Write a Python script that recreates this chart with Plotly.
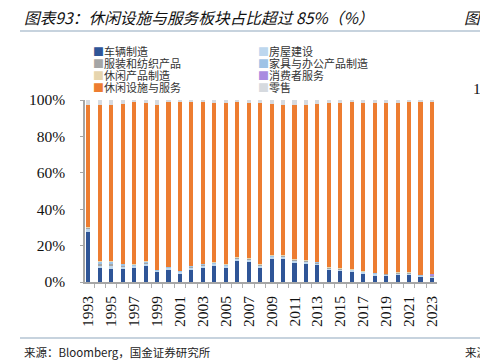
import plotly.graph_objects as go

years = list(range(1993, 2024))
tick_years = [1993, 1995, 1997, 1999, 2001, 2003, 2005, 2007, 2009, 2011, 2013, 2015, 2017, 2019, 2021, 2023]

names = ["车辆制造", "房屋建设", "服装和纺织产品", "家具与办公产品制造",
         "休闲产品制造", "消费者服务", "休闲设施与服务", "零售"]
colors = ["#2F5597", "#BDD7EE", "#A5A5A5", "#9DC3E6",
          "#E6D5AE", "#A98CE0", "#ED7D31", "#D6DADF"]

vehicles = [27.5, 7.7, 7.3, 7.0, 8.0, 8.8, 5.5, 7.1, 4.9, 7.1, 8.2, 8.8, 7.7, 11.6, 11.5, 8.2,
            12.6, 12.5, 10.6, 10.4, 9.3, 6.6, 6.2, 5.9, 4.8, 3.8, 3.7, 4.0, 4.0, 2.9, 2.7]
housing = [1.8, 1.6, 1.7, 1.4, 0.9, 1.3, 0.7, 0.6, 0.6, 0.8, 1.0, 1.1, 1.1, 1.2, 1.0, 1.0,
           1.2, 1.3, 1.2, 1.0, 1.1, 0.9, 0.9, 0.7, 0.7, 0.8, 0.5, 0.8, 0.8, 0.6, 0.5]
apparel = [0.4, 1.0, 1.1, 0.8, 0.4, 0.6, 0.3, 0.3, 0.3, 0.4, 0.4, 0.5, 0.5, 0.5, 0.4, 0.4,
           0.4, 0.5, 0.4, 0.4, 0.4, 0.3, 0.3, 0.3, 0.3, 0.3, 0.2, 0.3, 0.3, 0.3, 0.2]
furniture = [0.4, 0.9, 1.0, 0.7, 0.3, 0.5, 0.2, 0.2, 0.2, 0.3, 0.3, 0.3, 0.3, 0.3, 0.2, 0.2,
             0.3, 0.3, 0.3, 0.2, 0.3, 0.2, 0.2, 0.1, 0.1, 0.1, 0.1, 0.1, 0.1, 0.1, 0.1]
leisure_products = [0.1, 0.3, 0.3, 0.2, 0.1, 0.2, 0.1, 0.0, 0.0, 0.0, 0.1, 0.1, 0.1, 0.1, 0.1, 0.1,
                    0.1, 0.1, 0.1, 0.1, 0.1, 0.1, 0.1, 0.1, 0.1, 0.1, 0.1, 0.1, 0.1, 0.0, 0.1]
consumer_services = [0.0, 0.0, 0.0, 0.0, 0.0, 0.0, 0.0, 0.0, 0.0, 0.0, 0.0, 0.0, 0.0, 0.0, 0.0, 0.0,
                     0.0, 0.0, 0.0, 0.0, 0.0, 0.0, 0.0, 0.0, 0.0, 0.0, 0.0, 0.0, 0.0, 0.1, 1.0]
leisure_facilities = [67.0, 85.9, 86.0, 87.9, 89.2, 86.9, 90.3, 90.7, 93.4, 90.3, 88.7, 87.7, 88.8,
                      85.0, 85.3, 88.3, 83.0, 82.7, 84.8, 85.1, 86.6, 90.4, 90.8, 91.6, 92.5, 93.4,
                      93.9, 93.2, 93.6, 94.9, 94.5]
retail = [2.8, 2.6, 2.6, 2.0, 1.1, 1.7, 2.9, 1.1, 0.6, 1.1, 1.3, 1.5, 1.5, 1.3, 1.5, 1.8,
          2.4, 2.6, 2.6, 2.8, 2.2, 1.5, 1.5, 1.3, 1.5, 1.5, 1.5, 1.5, 1.1, 1.1, 0.9]

series = [vehicles, housing, apparel, furniture, leisure_products,
          consumer_services, leisure_facilities, retail]

y_ticks = [0, 20, 40, 60, 80, 100]

fig = go.Figure()
for name, color, vals in zip(names, colors, series):
    fig.add_trace(go.Bar(x=years, y=vals, name=name, marker=dict(color=color, line=dict(width=0)),
                         width=0.36, showlegend=False))

W, H = 480, 360
L, R, T, B = 85, 437, 100, 282

fig.update_layout(
    width=W, height=H,
    margin=dict(l=L, r=W - R, t=T, b=H - B, autoexpand=False),
    barmode="stack", barnorm="percent",
    paper_bgcolor="white", plot_bgcolor="white",
    font=dict(family="Liberation Serif", color="#222"),
)
fig.update_xaxes(
    range=[1992.71, 2023.44],
    tickvals=tick_years, ticktext=[str(y) for y in tick_years],
    tickangle=-90, ticks="", ticklabelstandoff=6,
    tickfont=dict(family="Liberation Serif", size=15.5, color="#111"),
    showline=True, linecolor="#A6A6A6", linewidth=1.5, showgrid=False, zeroline=False,
    minor=dict(tick0=1992.5, dtick=1, ticks="outside", ticklen=4, tickcolor="#B0B0B0", tickwidth=1.2),
)
fig.update_yaxes(
    range=[0, 100], tickvals=y_ticks, ticktext=[f"{v}%" for v in y_ticks],
    ticks="outside", ticklen=3, tickcolor="#A6A6A6", ticklabelstandoff=12,
    tickfont=dict(family="Liberation Serif", size=15.5, color="#111"),
    showline=True, linecolor="#A6A6A6", linewidth=1.5, showgrid=False, zeroline=False,
)


def px_x(x):
    return (x - L) / (R - L)


def px_y(y):
    return (B - y) / (B - T)


annotations = []
# title
annotations.append(dict(x=px_x(22), y=px_y(17), xref="paper", yref="paper", xanchor="left", yanchor="middle",
                        text="<i>图表93：休闲设施与服务板块占比超过 85%（%）</i>", showarrow=False,
                        font=dict(family="Noto Sans CJK SC", size=15.7, color="#111")))
annotations.append(dict(x=px_x(462), y=px_y(17), xref="paper", yref="paper", xanchor="left", yanchor="middle",
                        text="<i>图表</i>", showarrow=False,
                        font=dict(family="Noto Sans CJK SC", size=15.7, color="#111")))
annotations.append(dict(x=px_x(471), y=px_y(88), xref="paper", yref="paper", xanchor="left", yanchor="middle",
                        text="100%", showarrow=False,
                        font=dict(family="Liberation Serif", size=15.5, color="#111")))
# source
annotations.append(dict(x=px_x(22), y=px_y(352), xref="paper", yref="paper", xanchor="left", yanchor="middle",
                        text="来源：Bloomberg，国金证券研究所", showarrow=False,
                        font=dict(family="Noto Sans CJK SC", size=11.5, color="#222")))
annotations.append(dict(x=px_x(463), y=px_y(352), xref="paper", yref="paper", xanchor="left", yanchor="middle",
                        text="来源：", showarrow=False,
                        font=dict(family="Noto Sans CJK SC", size=11.5, color="#222")))

# legend (two columns, row-major)
col_x = [91, 256]
row_y = [50.5, 62.7, 74.9, 87.1]
for i, (name, color) in enumerate(zip(names, colors)):
    cx = col_x[i % 2]
    cy = row_y[i // 2]
    annotations.append(dict(x=px_x(cx), y=px_y(cy), xref="paper", yref="paper", xanchor="left", yanchor="middle",
                            text=f"<span style='color:{color}'>■</span>{name}", showarrow=False,
                            font=dict(family="Noto Sans CJK SC", size=11, color="#333")))

fig.update_layout(annotations=annotations)

shapes = [
    dict(type="line", xref="paper", yref="paper", x0=px_x(20), x1=px_x(480), y0=px_y(31), y1=px_y(31),
         line=dict(color="#8FA8BD", width=1.2)),
    dict(type="line", xref="paper", yref="paper", x0=px_x(20), x1=px_x(480), y0=px_y(338), y1=px_y(338),
         line=dict(color="#8FA8BD", width=1.2)),
]
fig.update_layout(shapes=shapes)

fig.write_html("out.html", config={"displayModeBar": False},
               post_script="document.body.style.margin='0';")
